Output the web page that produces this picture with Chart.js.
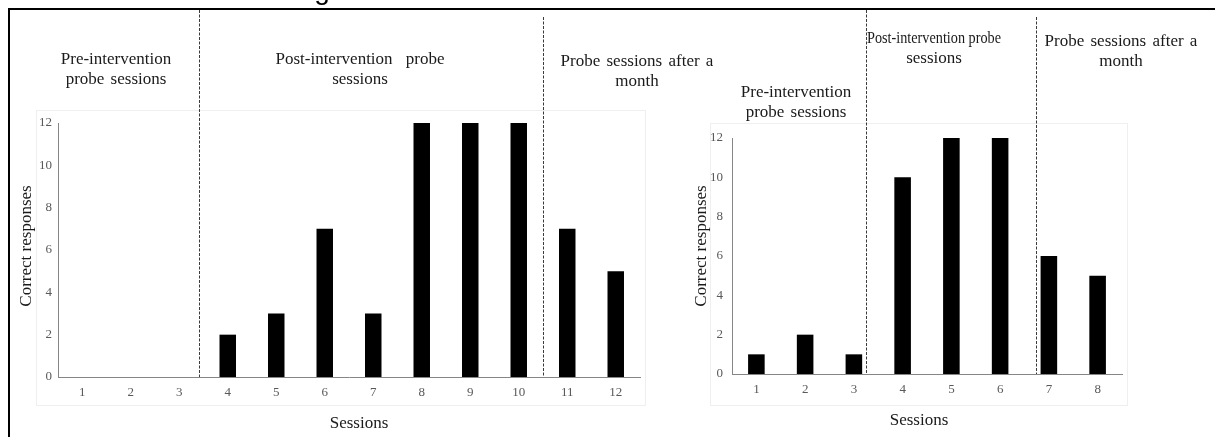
<!DOCTYPE html>
<html>
<head>
<meta charset="utf-8">
<script src="https://cdn.jsdelivr.net/npm/chart.js@4.4.1/dist/chart.umd.min.js"></script>
<style>
  html, body { margin: 0; padding: 0; background: #fff; width: 1215px; height: 437px; overflow: hidden; }
  canvas { position: absolute; top: 0; left: 0; }
</style>
</head>
<body>
<canvas id="deco" width="1215" height="437"></canvas>
<canvas id="chartA" width="1215" height="437"></canvas>
<canvas id="chartB" width="1215" height="437"></canvas>
<script>
// ---- data ----
const sessionsA = ['1','2','3','4','5','6','7','8','9','10','11','12'];
const correctA  = [0, 0, 0, 2, 3, 7, 3, 12, 12, 12, 7, 5];

const sessionsB = ['1','2','3','4','5','6','7','8'];
const correctB  = [1, 2, 1, 10, 12, 12, 6, 5];

const yTicks = [0, 2, 4, 6, 8, 10, 12];

const phaseNamesA = [
  ['Pre-intervention', 'probe sessions'],
  ['Post-intervention probe', 'sessions'],
  ['Probe sessions after a', 'month']
];
const phaseNamesB = [
  ['Pre-intervention', 'probe sessions'],
  ['Post-intervention probe', 'sessions'],
  ['Probe sessions after a', 'month']
];

const yTitle = 'Correct responses';
const xTitle = 'Sessions';

// ---- shared styling ----
const SERIF = '"Liberation Serif", "Times New Roman", serif';
const TEXT = '#1a1a1a';
const TICK = '#595959';
const AXIS = '#868686';

// Page frame and the faint plot frames behind both graphs
(function drawDeco() {
  const c = document.getElementById('deco');
  const ctx = c.getContext('2d');
  ctx.fillStyle = '#fff';
  ctx.fillRect(0, 0, c.width, c.height);
  ctx.strokeStyle = '#efefef';
  ctx.lineWidth = 1;
  ctx.strokeRect(36.5, 110.5, 609, 295);
  ctx.strokeRect(710.5, 123.5, 417, 282);
  ctx.fillStyle = '#000';
  ctx.fillRect(8, 8, 1207, 2);
  ctx.fillRect(8, 8, 2, 429);
  // caption above the frame, cut by the page edge
  ctx.font = '28px "Liberation Sans", Arial, sans-serif';
  ctx.textAlign = 'center';
  ctx.textBaseline = 'alphabetic';
  ctx.fillText('g', 322, -1);
})();

// Phase dividers, phase names and axis titles
const phasePlugin = {
  id: 'phases',
  afterDraw(chart, args, opts) {
    const ctx = chart.ctx;
    const xs = chart.scales.x, ys = chart.scales.y;
    const base = ys.getPixelForValue(0);
    ctx.save();
    ctx.strokeStyle = '#3a3a3a';
    ctx.lineWidth = 1;
    ctx.setLineDash([3, 1.5]);
    opts.dividers.forEach(d => {
      const px = Math.round(xs.getPixelForValue(d.at)) + 0.5;
      ctx.beginPath();
      ctx.moveTo(px, d.top);
      ctx.lineTo(px, base);
      ctx.stroke();
    });
    ctx.setLineDash([]);
    ctx.fillStyle = TEXT;
    ctx.font = '17px ' + SERIF;
    ctx.textAlign = 'center';
    ctx.textBaseline = 'alphabetic';
    opts.names.forEach((lines, i) => {
      const pos = opts.namePos[i];
      lines.forEach((t, k) => {
        ctx.wordSpacing = (pos.gap && pos.gap[k] != null ? pos.gap[k] : 2) + 'px';
        const mw = pos.fit && pos.fit[k] ? pos.fit[k] : undefined;
        if (mw) ctx.fillText(t, pos.x, pos.y + k * 20, mw);
        else ctx.fillText(t, pos.x, pos.y + k * 20);
      });
    });
    ctx.wordSpacing = '0px';
    // axis titles
    ctx.fillText(xTitle, opts.xTitle.x, opts.xTitle.y);
    ctx.translate(opts.yTitle.x, opts.yTitle.y);
    ctx.rotate(-Math.PI / 2);
    ctx.textBaseline = 'middle';
    ctx.fillText(yTitle, 0, 0);
    ctx.restore();
  }
};

function makeChart(id, labels, values, padding, tickPadY, phaseOpts) {
  return new Chart(document.getElementById(id), {
    type: 'bar',
    data: {
      labels: labels,
      datasets: [{
        data: values,
        backgroundColor: '#000',
        borderWidth: 0,
        barPercentage: 0.68,
        categoryPercentage: 0.5
      }]
    },
    options: {
      responsive: false,
      animation: false,
      events: [],
      layout: { padding: padding },
      plugins: {
        legend: { display: false },
        tooltip: { enabled: false },
        phases: phaseOpts
      },
      scales: {
        x: {
          grid: { display: false, drawTicks: false },
          border: { display: true, color: AXIS, width: 1 },
          ticks: { color: TICK, font: { family: SERIF, size: 13 }, padding: 8, maxRotation: 0 },
          afterFit: s => { s.height = 30; }
        },
        y: {
          min: 0, max: 12,
          afterBuildTicks: s => { s.ticks = yTicks.map(v => ({ value: v })); },
          grid: { display: false, drawTicks: false },
          border: { display: true, color: AXIS, width: 1 },
          ticks: { color: TICK, font: { family: SERIF, size: 13 }, padding: tickPadY },
          afterFit: s => { s.width = 30; }
        }
      }
    },
    plugins: [phasePlugin]
  });
}

makeChart('chartA', sessionsA, correctA,
  { left: 28, top: 123, right: 575, bottom: 30 }, 6,
  {
    dividers: [{ at: 2.41, top: 10 }, { at: 9.5, top: 17 }],
    names: phaseNamesA,
    namePos: [
      { x: 116, y: 64 },
      { x: 360, y: 64, gap: [9, 2] },
      { x: 637, y: 66 }
    ],
    xTitle: { x: 359, y: 428 },
    yTitle: { x: 27, y: 246 }
  });

makeChart('chartB', sessionsB, correctB,
  { left: 702, top: 138, right: 93, bottom: 33 }, 9,
  {
    dividers: [{ at: 2.25, top: 10 }, { at: 5.735, top: 17 }],
    names: phaseNamesB,
    namePos: [
      { x: 796, y: 97 },
      { x: 934, y: 43, gap: [0, 2], fit: [134, 0] },
      { x: 1121, y: 46 }
    ],
    xTitle: { x: 919, y: 425 },
    yTitle: { x: 702, y: 246 }
  });
</script>
</body>
</html>
